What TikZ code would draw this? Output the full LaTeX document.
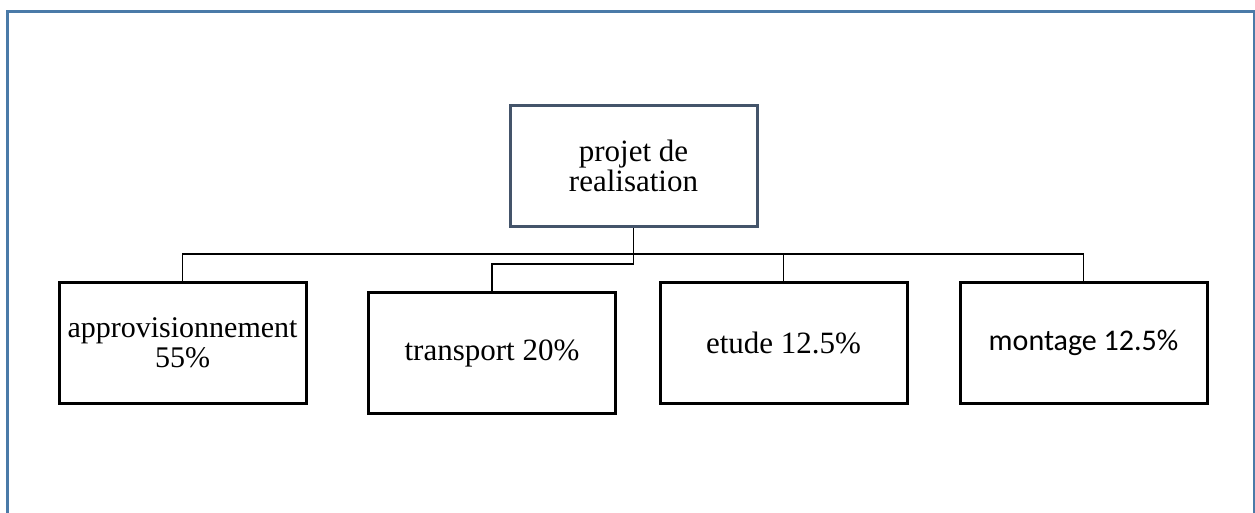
\documentclass[tikz,border=0pt]{standalone}
\usepackage{fontspec}
\setmainfont{Liberation Serif}
\newfontfamily\calibrifont{Carlito}
\definecolor{framecol}{RGB}{74,122,168}
\definecolor{rootcol}{RGB}{68,84,106}
\tikzset{
  framestyle/.style={draw=framecol, line width=3pt},
  boxstyle/.style={draw=black, line width=3pt, rectangle, inner sep=0pt,
    minimum width=247pt, minimum height=121pt, align=center,
    font=\fontsize{31}{30}\selectfont},
  rootstyle/.style={boxstyle, draw=rootcol},
  link/.style={draw=black, line width=1.3pt}
}
\begin{document}
\begin{tikzpicture}[x=1pt,y=-1pt]
\useasboundingbox (0,0) rectangle (1255,513);
\draw[framestyle] (7,513) -- (7,12) -- (1254,12) -- (1254,513);
\node[rootstyle] (root) at (633.5,166) {projet de\\realisation};
\node[boxstyle, font=\fontsize{30}{30}\selectfont] (approv) at (182.5,342.5) {approvisionnement\\55\%};
\node[boxstyle] (transport) at (492,353) {transport 20\%};
\node[boxstyle] (etude) at (783.5,342.5) {etude 12.5\%};
\node[boxstyle, font=\calibrifont\fontsize{30}{30}\selectfont] (montage) at (1083.5,343) {montage 12.5\%};
\coordinate (bus) at (0,254);
\draw[link] (approv.north) -- (approv.north |- bus) -- (montage.north |- bus) -- (montage.north);
\draw[link] (etude.north) -- (etude.north |- bus);
\draw[link] (root.south) -- ++(0,36) -| (transport.north);
\end{tikzpicture}
\end{document}
